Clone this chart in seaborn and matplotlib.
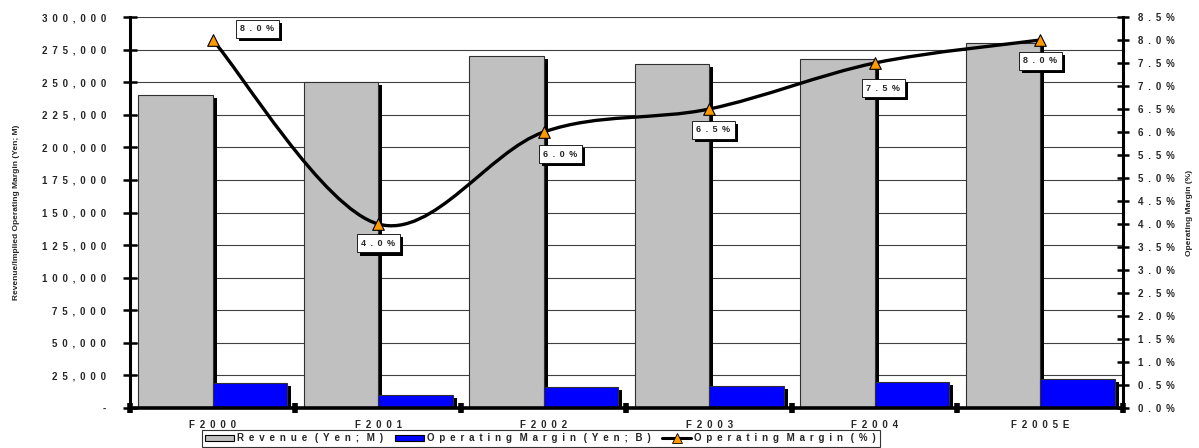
import numpy as np
import pandas as pd
import matplotlib
matplotlib.use("Agg")
import matplotlib.pyplot as plt
import matplotlib.patheffects as pe
from matplotlib.path import Path
from matplotlib.patches import PathPatch, Patch
from matplotlib.lines import Line2D
from matplotlib.ticker import FixedLocator, FuncFormatter
import seaborn as sns

# ---- data ----
years = ["F2000", "F2001", "F2002", "F2003", "F2004", "F2005E"]
revenue = [240000, 250000, 270000, 264000, 268000, 280000]
op_margin_amt = [19200, 10000, 16200, 17160, 20100, 22400]
op_margin_pct = [8.0, 4.0, 6.0, 6.5, 7.5, 8.0]
series_names = ["Revenue (Yen; M)", "Operating Margin (Yen; B)", "Operating Margin (%)"]
left_ticks = list(range(0, 300001, 25000))
right_ticks = [i * 0.5 for i in range(18)]

sns.set_theme(style="white")
plt.rcParams["font.family"] = ["Liberation Sans", "DejaVu Sans"]
plt.rcParams["font.weight"] = "bold"

GAP = "\u2002"  # en space used for letter spacing


def spaced(s):
    """Letter-spaced text in the worksheet style."""
    return (GAP + " ").join(GAP.join(w) for w in s.split(" "))


df = pd.DataFrame({
    "year": years * 2,
    "series": [series_names[0]] * 6 + [series_names[1]] * 6,
    "value": revenue + op_margin_amt,
})

fig = plt.figure(figsize=(11.99, 4.48), dpi=100)
ax = fig.add_axes([0.1084, 0.0893, 0.8282, 0.8727])

sns.barplot(data=df, x="year", y="value", hue="series",
            palette=["#C0C0C0", "#0000FF"], width=0.9, ax=ax,
            legend=False, edgecolor="#303030", linewidth=0.8,
            saturation=1, errorbar=None)
shadow = [pe.SimplePatchShadow(offset=(2.8, -2.2), shadow_rgbFace="black", alpha=1.0), pe.Normal()]
for p in ax.patches:
    p.set_path_effects(shadow)

ax.set_xlim(-0.5, 5.5)
ax.set_ylim(0, 300000)
ax.set_axisbelow(True)
ax.yaxis.set_major_locator(FixedLocator(left_ticks))
ax.yaxis.set_major_formatter(FuncFormatter(
    lambda v, _: "-" if v == 0 else spaced(f"{int(v):,}")))
ax.grid(axis="y", color="#404040", linewidth=0.8)
ax.grid(axis="x", visible=False)
ax.set_xlabel("")
ax.set_ylabel("Revenue/Implied Operating Margin (Yen; M)", fontsize=6,
              fontweight="bold", labelpad=16)
ax.set_xticks(range(6))
ax.set_xticklabels([spaced(y) for y in years])
ax.set_xticks(np.arange(-0.5, 6, 1.0), minor=True)
ax.tick_params(axis="x", which="major", length=0, pad=9, labelsize=7)
ax.tick_params(axis="x", which="minor", direction="inout", length=7, width=4,
               color="black", bottom=True)
ax.tick_params(axis="y", direction="inout", length=10, width=1.8, color="black",
               pad=12, labelsize=7, left=True)
for sp in ["top", "right"]:
    ax.spines[sp].set_visible(False)
ax.spines["left"].set_linewidth(2.2)
ax.spines["bottom"].set_linewidth(2.6)
for sp in ["left", "bottom"]:
    ax.spines[sp].set_color("black")

# ---- margin line on the secondary axis ----
ax2 = ax.twinx()
ax2.set_ylim(0, 8.5)
xs = np.arange(len(op_margin_pct), dtype=float)
ys = np.array(op_margin_pct, dtype=float)

# smoothed connector (cubic Bezier segments through the points)
pts = np.column_stack([xs, ys])
ext = np.vstack([pts[0], pts, pts[-1]])
verts = [tuple(pts[0])]
codes = [Path.MOVETO]
for i in range(len(pts) - 1):
    p0, p1, p2, p3 = ext[i], ext[i + 1], ext[i + 2], ext[i + 3]
    c1 = p1 + (p2 - p0) / 6.0
    c2 = p2 - (p3 - p1) / 6.0
    verts += [tuple(c1), tuple(c2), tuple(p2)]
    codes += [Path.CURVE4] * 3
ax2.add_patch(PathPatch(Path(verts, codes), facecolor="none",
                        edgecolor="black", linewidth=2.4, zorder=3))
sns.scatterplot(x=xs, y=ys, marker="^", s=70, color="#FF9900",
                edgecolor="black", linewidth=0.8, ax=ax2, zorder=4, legend=False)

ax2.yaxis.set_major_locator(FixedLocator(right_ticks))
ax2.yaxis.set_major_formatter(FuncFormatter(lambda v, _: spaced(f"{v:.1f}%")))
ax2.tick_params(axis="y", direction="inout", length=8, width=1.8, color="black",
                pad=7, labelsize=7, right=True)
ax2.set_ylabel("Operating Margin (%)", fontsize=6, fontweight="bold", labelpad=8)
ax2.grid(False)
for sp in ["top", "left", "bottom"]:
    ax2.spines[sp].set_visible(False)
ax2.spines["right"].set_linewidth(2.2)
ax2.spines["right"].set_color("black")

# ---- value callouts ----
offsets = [(32, 8), (0, -14), (12, -16), (3, -15), (6, -18), (0, -15)]
box_shadow = [pe.SimplePatchShadow(offset=(2.2, -2.2), shadow_rgbFace="black", alpha=1.0), pe.Normal()]
for x, y, off in zip(xs, ys, offsets):
    t = ax2.annotate(spaced(f"{y:.1f}%"), xy=(x, y), xytext=off,
                     textcoords="offset points", ha="center", va="center",
                     fontsize=6.5, fontweight="bold", zorder=6,
                     bbox=dict(boxstyle="square,pad=0.5", fc="white",
                               ec="black", lw=0.6))
    t.get_bbox_patch().set_path_effects(box_shadow)

# ---- legend ----
handles = [
    Patch(facecolor="#C0C0C0", edgecolor="black", linewidth=0.8),
    Patch(facecolor="#0000FF", edgecolor="black", linewidth=0.8),
    Line2D([0], [0], color="black", linewidth=2.2, marker="^", markersize=7,
           markerfacecolor="#FF9900", markeredgecolor="black", markeredgewidth=0.6),
]
leg = fig.legend(handles, [spaced(s) for s in series_names], loc="lower center",
                 bbox_to_anchor=(0.4508, -0.008), ncol=3, fontsize=7,
                 frameon=True, fancybox=False, handlelength=3.0,
                 handletextpad=0.3, columnspacing=1.2, borderpad=0.35)
leg.get_frame().set_edgecolor("black")
leg.get_frame().set_linewidth(0.8)

fig.savefig("out.png", dpi=100)
